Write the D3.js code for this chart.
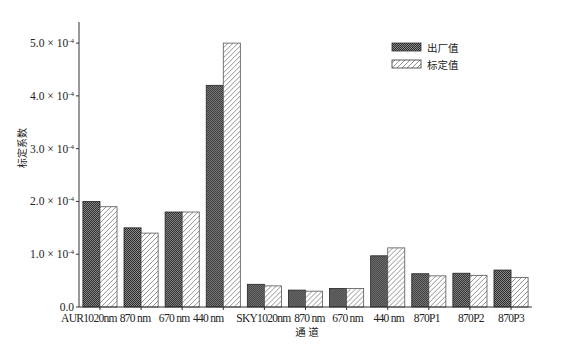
<!DOCTYPE html>
<html>
<head>
<meta charset="utf-8">
<script src="https://cdn.jsdelivr.net/npm/d3@7"></script>
<style>
  body { margin: 0; background: #fff; }
  svg { display: block; }
</style>
</head>
<body>
<svg id="chart"></svg>
<script>
// channel names on the x axis
var channels = ["AUR1020nm", "870 nm", "670 nm", "440 nm", "SKY1020nm", "870 nm", "670 nm", "440 nm", "870P1", "870P2", "870P3"];
// values in units of 10^-4
var factoryVals = [2.0, 1.5, 1.8, 4.2, 0.43, 0.32, 0.35, 0.97, 0.63, 0.64, 0.70];
var calibVals   = [1.9, 1.4, 1.8, 5.0, 0.40, 0.30, 0.35, 1.12, 0.59, 0.60, 0.56];
var seriesNames = ["出厂值", "标定值"];
var yTicks = [0, 1, 2, 3, 4, 5];

var W = 580, H = 348;
var margin = {top: 22, right: 48, bottom: 41, left: 79};
var serif = "Liberation Serif, DejaVu Serif, serif";

var svg = d3.select("#chart").attr("width", W).attr("height", H);

var defs = svg.append("defs");
// dark checker pattern
var p1 = defs.append("pattern")
    .attr("id", "dots")
    .attr("patternUnits", "userSpaceOnUse")
    .attr("width", 2).attr("height", 2);
p1.append("rect").attr("width", 2).attr("height", 2).attr("fill", "#8c8c8c");
p1.append("rect").attr("width", 1).attr("height", 1).attr("fill", "#2a2a2a");
p1.append("rect").attr("x", 1).attr("y", 1).attr("width", 1).attr("height", 1).attr("fill", "#2a2a2a");

// diagonal hatch
var p2 = defs.append("pattern")
    .attr("id", "hatch")
    .attr("patternUnits", "userSpaceOnUse")
    .attr("width", 5).attr("height", 5);
p2.append("rect").attr("width", 5).attr("height", 5).attr("fill", "#fff");
p2.append("path")
    .attr("d", "M-1,1 l2,-2 M0,5 l5,-5 M4,6 l2,-2")
    .attr("stroke", "#777")
    .attr("stroke-width", 0.8);

var x0 = d3.scaleBand()
    .domain(d3.range(channels.length))
    .range([margin.left, W - margin.right])
    .paddingInner(0.17)
    .paddingOuter(0.095);

var x1 = d3.scaleBand()
    .domain([0, 1])
    .range([0, x0.bandwidth()]);

var y = d3.scaleLinear()
    .domain([0, 5.4])
    .range([H - margin.bottom, margin.top]);

var fills = ["url(#dots)", "url(#hatch)"];

var groups = svg.append("g")
  .selectAll("g")
  .data(channels)
  .enter().append("g")
    .attr("transform", function(d, i) { return "translate(" + x0(i) + ",0)"; });

groups.selectAll("rect")
  .data(function(d, i) { return [factoryVals[i], calibVals[i]]; })
  .enter().append("rect")
    .attr("x", function(d, j) { return x1(j); })
    .attr("y", function(d) { return y(d); })
    .attr("width", x1.bandwidth())
    .attr("height", function(d) { return y(0) - y(d); })
    .attr("fill", function(d, j) { return fills[j]; })
    .attr("stroke", function(d, j) { return j == 0 ? "#222" : "#555"; })
    .attr("stroke-width", 0.8);

// y axis
svg.append("line")
    .attr("x1", margin.left).attr("x2", margin.left)
    .attr("y1", margin.top).attr("y2", y(0))
    .attr("stroke", "#333").attr("stroke-width", 1);

var yt = svg.append("g").selectAll("g")
    .data(yTicks).enter().append("g")
    .attr("transform", function(d) { return "translate(" + margin.left + "," + y(d) + ")"; });

yt.append("line").attr("x1", -3).attr("x2", 0).attr("stroke", "#333");

var ytext = yt.append("text")
    .attr("x", -5)
    .attr("y", 4)
    .attr("text-anchor", "end")
    .style("font-family", serif)
    .style("font-size", "11.5px")
    .style("fill", "#222");
ytext.filter(function(d) { return d === 0; }).text("0.0");
ytext.filter(function(d) { return d !== 0; }).each(function(d) {
  var t = d3.select(this);
  t.append("tspan").text(d.toFixed(1) + " \u00d7 10");
  t.append("tspan").attr("dy", -4).style("font-size", "7px").text("-4");
});

// x axis
svg.append("line")
    .attr("x1", margin.left).attr("x2", W - margin.right)
    .attr("y1", y(0)).attr("y2", y(0))
    .attr("stroke", "#333").attr("stroke-width", 1);

// the first labels sit a little left of their group in the original
var labelNudge = [-11, -6, -8, -15, -1, 4, 1, 1, -2, 1, 0];

var xt = svg.append("g").selectAll("g")
    .data(channels).enter().append("g")
    .attr("transform", function(d, i) { return "translate(" + (x0(i) + x0.bandwidth() / 2) + "," + y(0) + ")"; });

xt.append("line").attr("y1", 0).attr("y2", 3).attr("stroke", "#333");
xt.append("text")
    .attr("x", function(d, i) { return labelNudge[i]; })
    .attr("y", 15)
    .attr("text-anchor", "middle")
    .style("font-family", serif)
    .style("font-size", "11.5px")
    .style("letter-spacing", "-0.7px")
    .style("fill", "#222")
    .text(function(d) { return d; });

// axis titles
svg.append("text")
    .attr("transform", "translate(26,148) rotate(-90)")
    .attr("text-anchor", "middle")
    .style("font-family", "Noto Sans CJK SC")
    .style("font-size", "10px")
    .style("fill", "#222")
    .text("标定系数");

svg.append("text")
    .attr("x", 307).attr("y", 336)
    .attr("text-anchor", "middle")
    .style("font-family", "Noto Sans CJK SC")
    .style("font-size", "10.5px")
    .style("fill", "#222")
    .text("通   道");

// legend
var legend = svg.append("g").attr("transform", "translate(392,43)");
seriesNames.forEach(function(name, i) {
  legend.append("rect")
      .attr("x", 0).attr("y", i * 17)
      .attr("width", 29).attr("height", 8)
      .attr("fill", fills[i])
      .attr("stroke", "#333").attr("stroke-width", 0.8);
  legend.append("text")
      .attr("x", 35).attr("y", i * 17 + 9)
      .style("font-family", "Noto Sans CJK SC")
      .style("font-size", "10.5px")
      .style("fill", "#222")
      .text(name);
});
</script>
</body>
</html>
